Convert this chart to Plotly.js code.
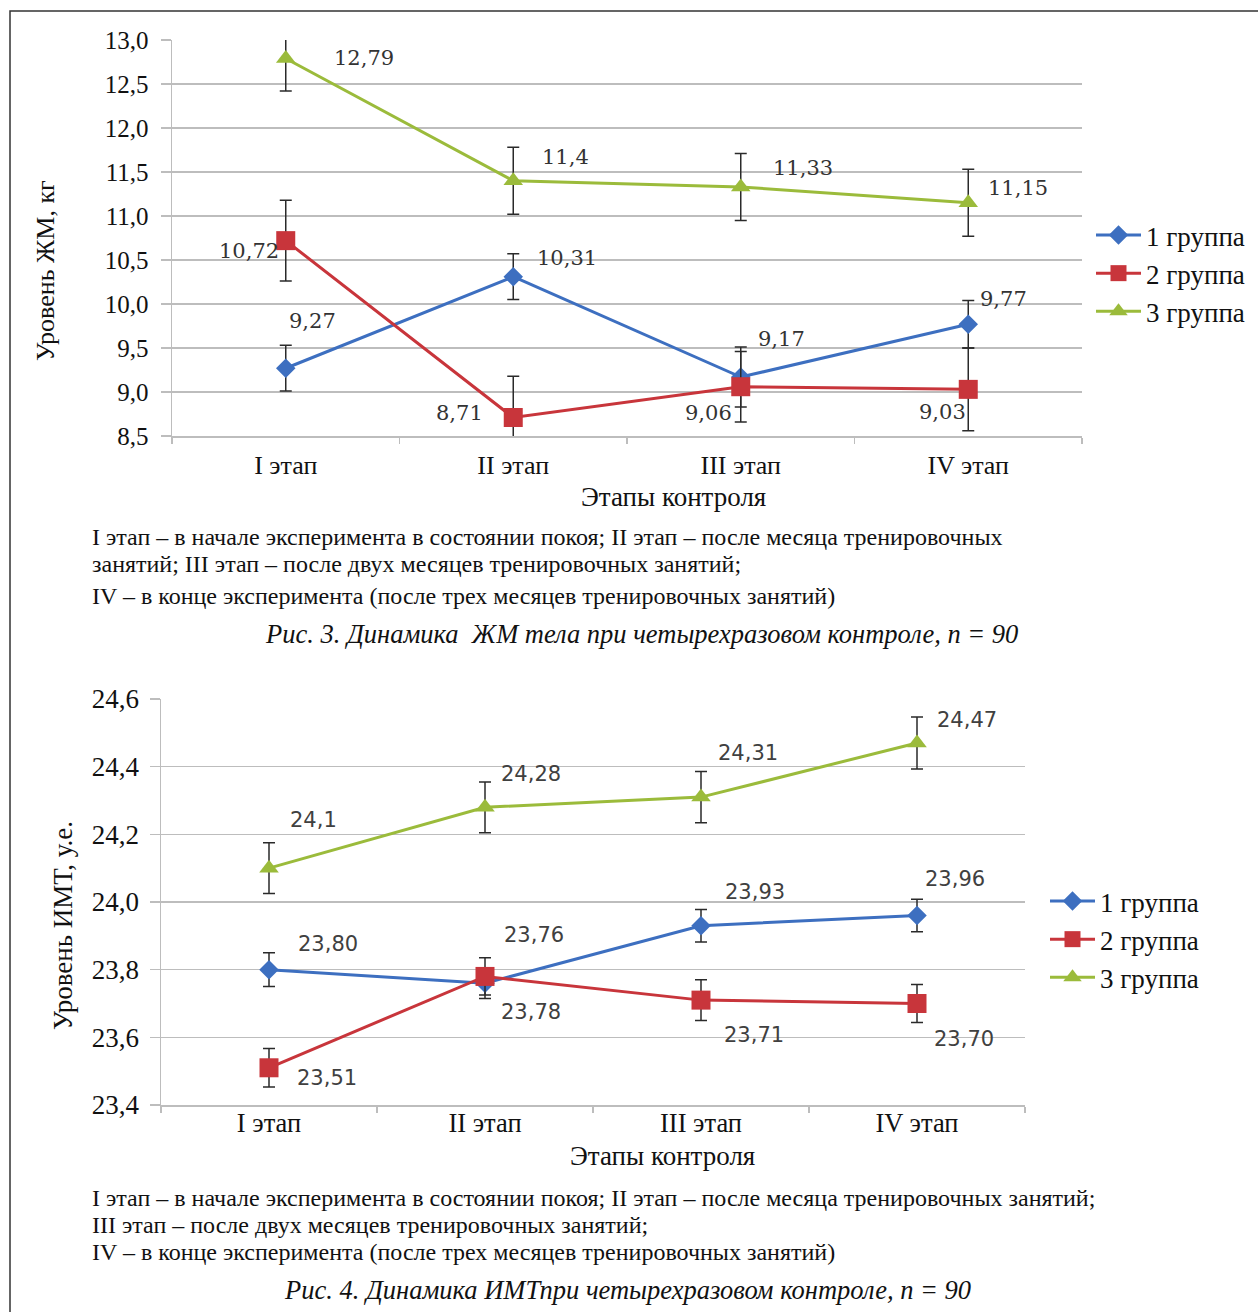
<!DOCTYPE html>
<html><head><meta charset="utf-8">
<script src="https://cdn.plot.ly/plotly-3.0.1.min.js"></script>
<style>html,body{margin:0;padding:0;background:#fff;}#chart{width:1258px;height:1312px;}</style>
</head><body><div id="chart"></div>
<script>
// ---------- DATA ----------
const stages = ["I этап", "II этап", "III этап", "IV этап"];
const groupNames = ["1 группа", "2 группа", "3 группа"];

// Chart 1: fat mass (ЖМ), kg
const fm_g1 = [9.27, 10.31, 9.17, 9.77];
const fm_g2 = [10.72, 8.71, 9.06, 9.03];
const fm_g3 = [12.79, 11.4, 11.33, 11.15];
const fm_g1_err = [0.26, 0.26, 0.34, 0.27];
const fm_g2_err = [0.46, 0.47, 0.40, 0.47];
const fm_g3_err = [0.37, 0.38, 0.38, 0.38];
const fm_g1_lbl = ["9,27", "10,31", "9,17", "9,77"];
const fm_g2_lbl = ["10,72", "8,71", "9,06", "9,03"];
const fm_g3_lbl = ["12,79", "11,4", "11,33", "11,15"];
const fm_ticks = [8.5, 9.0, 9.5, 10.0, 10.5, 11.0, 11.5, 12.0, 12.5, 13.0];
const fm_tickText = ["8,5", "9,0", "9,5", "10,0", "10,5", "11,0", "11,5", "12,0", "12,5", "13,0"];

// Chart 2: BMI (ИМТ)
const bmi_g1 = [23.80, 23.76, 23.93, 23.96];
const bmi_g2 = [23.51, 23.78, 23.71, 23.70];
const bmi_g3 = [24.1, 24.28, 24.31, 24.47];
const bmi_g1_err = [0.05, 0.045, 0.048, 0.048];
const bmi_g2_err = [0.057, 0.055, 0.06, 0.056];
const bmi_g3_err = [0.075, 0.075, 0.076, 0.077];
const bmi_g1_lbl = ["23,80", "23,76", "23,93", "23,96"];
const bmi_g2_lbl = ["23,51", "23,78", "23,71", "23,70"];
const bmi_g3_lbl = ["24,1", "24,28", "24,31", "24,47"];
const bmi_ticks = [23.4, 23.6, 23.8, 24.0, 24.2, 24.4, 24.6];
const bmi_tickText = ["23,4", "23,6", "23,8", "24,0", "24,2", "24,4", "24,6"];

// ---------- STYLE ----------
const W = 1258, H = 1312;
const SERIF = "Liberation Serif, Times New Roman, serif";
const LBLSERIF = "DejaVu Serif, serif";
const SANS = "DejaVu Sans, sans-serif";
const colors = ["#3d6fc0", "#c8353b", "#9bbb3b"];
const symbols = ["diamond", "square", "triangle-up"];
const msizes = [15, 19, 17];

// label offsets (px) relative to the point: [xshift, yshift]
const fmOff = [
  [[27, 47], [54, 19], [41, 38], [35, 25]],
  [[-37, -10], [-54, 5], [-32, -26], [-26, -23]],
  [[78, 0], [52, 24], [62, 19], [50, 15]]
];
const bmiOff = [
  [[59, 26], [49, 48], [54, 34], [38, 37]],
  [[58, -10], [46, -36], [53, -35], [47, -35]],
  [[44, 48], [46, 33], [47, 44], [50, 23]]
];

const px = x => x / W;
const py = y => 1 - y / H;

const fmSeries = [fm_g1, fm_g2, fm_g3];
const fmErr = [fm_g1_err, fm_g2_err, fm_g3_err];
const fmLbl = [fm_g1_lbl, fm_g2_lbl, fm_g3_lbl];
const bmiSeries = [bmi_g1, bmi_g2, bmi_g3];
const bmiErr = [bmi_g1_err, bmi_g2_err, bmi_g3_err];
const bmiLbl = [bmi_g1_lbl, bmi_g2_lbl, bmi_g3_lbl];

const traces = [];
for (let i = 0; i < 3; i++) {
  traces.push({
    type: "scatter", mode: "lines+markers", x: stages, y: fmSeries[i], name: groupNames[i],
    xaxis: "x", yaxis: "y", legend: "legend", legendgroup: "a" + i,
    line: {color: colors[i], width: 3},
    marker: {symbol: symbols[i], size: msizes[i], color: colors[i]},
    error_y: {type: "data", array: fmErr[i], visible: true, color: "#2a2a2a", thickness: 1.5, width: 6},
    cliponaxis: true, hoverinfo: "skip"
  });
}
for (let i = 0; i < 3; i++) {
  traces.push({
    type: "scatter", mode: "lines+markers", x: stages, y: bmiSeries[i], name: groupNames[i],
    xaxis: "x2", yaxis: "y2", legend: "legend2", legendgroup: "b" + i,
    line: {color: colors[i], width: 3},
    marker: {symbol: symbols[i], size: msizes[i], color: colors[i]},
    error_y: {type: "data", array: bmiErr[i], visible: true, color: "#2a2a2a", thickness: 1.5, width: 6},
    cliponaxis: true, hoverinfo: "skip"
  });
}

const ann = [];
for (let i = 0; i < 3; i++) {
  for (let k = 0; k < 4; k++) {
    ann.push({xref: "x", yref: "y", x: stages[k], y: fmSeries[i][k], text: fmLbl[i][k],
      showarrow: false, xanchor: "center", yanchor: "middle",
      xshift: fmOff[i][k][0], yshift: fmOff[i][k][1],
      font: {family: LBLSERIF, size: 21, color: "#333"}});
    ann.push({xref: "x2", yref: "y2", x: stages[k], y: bmiSeries[i][k], text: bmiLbl[i][k],
      showarrow: false, xanchor: "center", yanchor: "middle",
      xshift: bmiOff[i][k][0], yshift: bmiOff[i][k][1],
      font: {family: SANS, size: 21, color: "#404040"}});
  }
}
function txt(x, y, t, f, xa, angle) {
  const a = {xref: "paper", yref: "paper", x: px(x), y: py(y), text: t, showarrow: false,
    xanchor: xa || "center", yanchor: "middle", font: f};
  if (angle !== undefined) a.textangle = angle;
  ann.push(a);
}
const titleFont = {family: SERIF, size: 27, color: "#111"};
// axis titles
txt(673, 497, "Этапы контроля", titleFont);
txt(45, 271, "Уровень ЖМ, кг", {family: SERIF, size: 26, color: "#111"}, "center", -90);
txt(662, 1156, "Этапы контроля", titleFont);
txt(63, 926, "Уровень ИМТ, у.е.", titleFont, "center", -90);

// captions
const capFont = {family: SERIF, size: 24, color: "#111"};
const capItal = {family: SERIF, size: 26.5, color: "#111"};
txt(90, 537, "I этап – в начале эксперимента в состоянии покоя; II этап – после месяца тренировочных", capFont, "left");
txt(90, 564, "занятий; III этап – после двух месяцев тренировочных занятий;", capFont, "left");
txt(90, 596, "IV – в конце эксперимента (после трех месяцев тренировочных занятий)", capFont, "left");
txt(641, 634, "<i>Рис. 3. Динамика  ЖМ тела при четырехразовом контроле, n = 90</i>", capItal);
txt(90, 1198, "I этап – в начале эксперимента в состоянии покоя; II этап – после месяца тренировочных занятий;", capFont, "left");
txt(90, 1225, "III этап – после двух месяцев тренировочных занятий;", capFont, "left");
txt(90, 1252, "IV – в конце эксперимента (после трех месяцев тренировочных занятий)", capFont, "left");
txt(627, 1290, "<i>Рис. 4. Динамика ИМТпри четырехразовом контроле, n = 90</i>", capItal);

const gridC = "#bdbdbd";
const axisCommonX = {
  type: "category", range: [-0.5, 3.5], showgrid: false, showline: true, linecolor: gridC, linewidth: 1.5,
  ticks: "outside", tickson: "boundaries", ticklen: 6, tickcolor: gridC, tickwidth: 1.5,
  zeroline: false, fixedrange: true
};
const axisCommonY = {
  showgrid: true, gridcolor: gridC, gridwidth: 1.5, showline: true, linecolor: gridC, linewidth: 1.5,
  ticks: "outside", ticklen: 10, tickcolor: gridC, tickwidth: 1.5, zeroline: false,
  tickmode: "array", fixedrange: true
};

const layout = {
  width: W, height: H, margin: {l: 0, r: 0, t: 0, b: 0},
  paper_bgcolor: "#fff", plot_bgcolor: "#fff", showlegend: true,
  xaxis: Object.assign({}, axisCommonX, {domain: [px(172), px(1082)], anchor: "y", ticklabelstandoff: 5,
    tickfont: {family: SERIF, size: 26, color: "#111"}}),
  yaxis: Object.assign({}, axisCommonY, {domain: [py(436), py(40)], anchor: "x", range: [8.5, 13.0],
    tickvals: fm_ticks, ticktext: fm_tickText, ticklabelstandoff: 7,
    tickfont: {family: SERIF, size: 25, color: "#111"}}),
  xaxis2: Object.assign({}, axisCommonX, {domain: [px(161), px(1025)], anchor: "y2", ticklabelstandoff: -6,
    tickfont: {family: SERIF, size: 26.5, color: "#111"}}),
  yaxis2: Object.assign({}, axisCommonY, {domain: [py(1105), py(699)], anchor: "x2", range: [23.4, 24.6],
    tickvals: bmi_ticks, ticktext: bmi_tickText, ticklabelstandoff: 5,
    tickfont: {family: SERIF, size: 27, color: "#111"}}),
  legend: {x: px(1091), y: py(211), xanchor: "left", yanchor: "top", bgcolor: "rgba(0,0,0,0)",
    font: {family: SERIF, size: 27, color: "#111"}, tracegroupgap: 0, itemwidth: 45},
  legend2: {x: px(1045), y: py(877), xanchor: "left", yanchor: "top", bgcolor: "rgba(0,0,0,0)",
    font: {family: SERIF, size: 27, color: "#111"}, tracegroupgap: 0, itemwidth: 45},
  annotations: ann,
  shapes: [
    {type: "rect", xref: "paper", yref: "paper", x0: px(10), x1: 1.01, y0: -0.01, y1: py(11),
      line: {color: "#333", width: 1.5}, fillcolor: "rgba(0,0,0,0)"}
  ]
};

Plotly.newPlot("chart", traces, layout, {staticPlot: true, displayModeBar: false});
</script>
</body></html>
